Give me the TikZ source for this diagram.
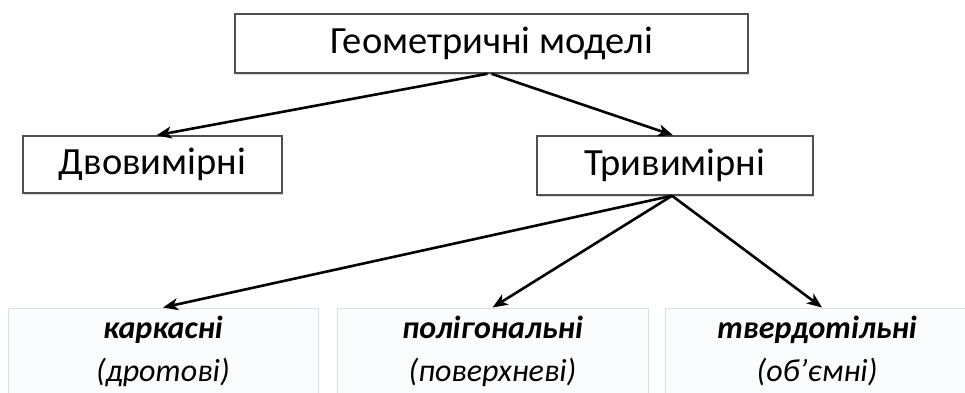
\documentclass[tikz,border=0pt]{standalone}
\usepackage{fontspec}
\setmainfont{Carlito}
\usetikzlibrary{arrows.meta,shadows}
\definecolor{boxline}{HTML}{505050}
\definecolor{lightline}{HTML}{D3DFEC}
\definecolor{lightfill}{HTML}{FBFCFD}
\begin{document}
\begin{tikzpicture}[x=1pt,y=-1pt,
  topbox/.style={draw=boxline,line width=1.5pt,fill=white,inner sep=0pt,
    drop shadow={opacity=0.3,shadow xshift=1.2pt,shadow yshift=-1.8pt},
    font=\fontsize{38.5}{42}\selectfont},
  lowbox/.style={draw=lightline,line width=1pt,fill=lightfill,inner sep=0pt},
  lowtext/.style={align=center,font=\fontsize{32}{43}\selectfont},
  conn/.style={line width=2.6pt,-{Stealth[length=15pt,width=12pt,inset=4pt]}}]
\useasboundingbox (0,0) rectangle (965,392);
\node[topbox,minimum width=513,minimum height=59] (top) at (491.5,43.5) {Геометричні моделі};
\node[topbox,minimum width=259,minimum height=57] (dvo) at (152.5,164.5) {Двовимірні};
\node[topbox,minimum width=276,minimum height=59] (tri) at (675,165.5) {Тривимірні};
\node[lowbox,minimum width=310,minimum height=100] (kar) at (163,358) {};
\node[lowbox,minimum width=311,minimum height=100] (pol) at (492.5,358) {};
\node[lowbox,minimum width=304,minimum height=100] (tve) at (817,358) {};
\node[lowtext] (kart) at (163,351) {\textbf{\textit{каркасні}}\\\textit{(дротові)}};
\node[lowtext] (polt) at (492.5,351) {\textbf{\textit{полігональні}}\\\textit{(поверхневі)}};
\node[lowtext] (tvet) at (817,351) {\textbf{\textit{твердотільні}}\\\textit{(об’ємні)}};
\draw[conn] ([xshift=-4pt]top.south) -- ([xshift=4pt]dvo.north);
\draw[conn] (top.south) -- ([xshift=-2pt]tri.north);
\draw[conn] ([xshift=-3pt]tri.south) -- (kar.north);
\draw[conn] ([xshift=-3pt]tri.south) -- (pol.north);
\draw[conn] ([xshift=-3pt]tri.south) -- ([xshift=5pt]tve.north);
\end{tikzpicture}
\end{document}
